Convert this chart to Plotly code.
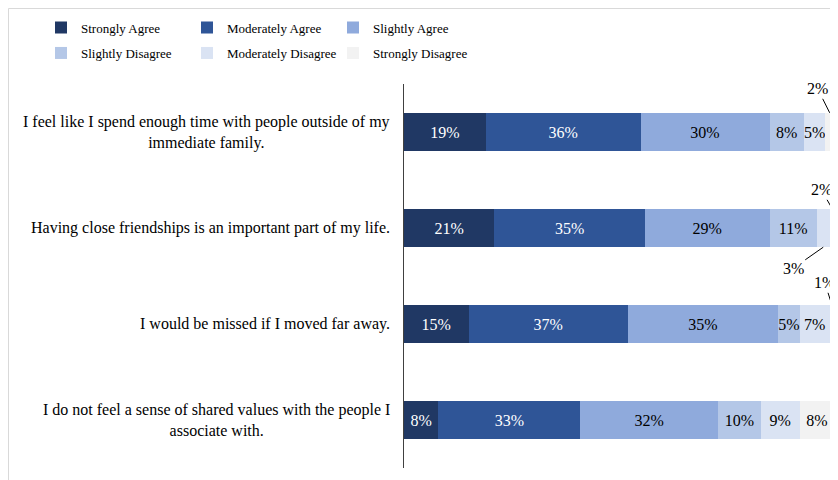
import plotly.graph_objects as go

categories = [
    "I feel like I spend enough time with people outside of my<br>immediate family.",
    "Having close friendships is an important part of my life.",
    "I would be missed if I moved far away.",
    "I do not feel a sense of shared values with the people I<br>associate with.",
]
series_names = ["Strongly Agree", "Moderately Agree", "Slightly Agree",
                "Slightly Disagree", "Moderately Disagree", "Strongly Disagree"]
strongly_agree = [19, 21, 15, 8]
moderately_agree = [36, 35, 37, 33]
slightly_agree = [30, 29, 35, 32]
slightly_disagree = [8, 11, 5, 10]
moderately_disagree = [5, 3, 7, 9]
strongly_disagree = [2, 2, 1, 8]
series_values = [strongly_agree, moderately_agree, slightly_agree,
                 slightly_disagree, moderately_disagree, strongly_disagree]

colors = ["#203864", "#2F5597", "#8FAADC", "#B4C7E7", "#DAE3F3", "#F2F2F2"]
text_colors = ["white", "white", "black", "black", "black", "black"]
FONT = "Liberation Serif"

# thin segments labelled outside with a leader line: (series, category) -> (ax, ay)
callouts = {
    (5, 0): (-12, -24),
    (5, 1): (-11, -19),
    (4, 1): (-30, 21),
    (5, 2): (-7, -22),
}

W, H = 838, 480
L, R, T, B = 396, 12, 76, 20
pw, ph = W - L - R, H - T - B
def px_x(p):
    return (p - L) / pw
def px_y(p):
    return (H - B - p) / ph

fig = go.Figure()
idx = list(range(len(categories)))
for s, (name, vals) in enumerate(zip(series_names, series_values)):
    texts = ["" if (s, i) in callouts else f"{v}%" for i, v in enumerate(vals)]
    fig.add_trace(go.Bar(
        name=name, y=idx, x=vals, orientation="h",
        marker=dict(color=colors[s], line=dict(width=0)),
        text=texts, textposition="inside", insidetextanchor="middle",
        textangle=0, constraintext="none",
        textfont=dict(family=FONT, size=16, color=text_colors[s]),
        width=0.4,
        legend="legend" if s < 3 else "legend2",
        hoverinfo="skip",
    ))

annotations = []
for i, c in enumerate(categories):
    annotations.append(dict(
        text=c, xref="paper", x=0, xshift=-12, xanchor="right",
        yref="y", y=i, yanchor="middle", align="center", showarrow=False,
        font=dict(family=FONT, size=16, color="#000000"),
    ))
for (s, i), (ax, ay) in callouts.items():
    start = sum(series_values[k][i] for k in range(s))
    mid = min(start + series_values[s][i] / 2, 99.6)
    edge = i - 0.2 if ay < 0 else i + 0.2
    annotations.append(dict(
        text=f"{series_values[s][i]}%", x=mid, y=edge, xref="x", yref="y",
        showarrow=True, arrowhead=0, arrowwidth=1, arrowcolor="#000000",
        ax=ax, ay=ay, font=dict(family=FONT, size=16, color="#000000"),
    ))

legend_common = dict(orientation="h", xref="paper", yref="paper",
                     xanchor="left", yanchor="top",
                     entrywidth=101, entrywidthmode="pixels", itemwidth=30,
                     font=dict(family=FONT, size=13, color="#000000"),
                     traceorder="normal", bgcolor="rgba(0,0,0,0)", borderwidth=0)

fig.update_layout(
    width=W, height=H,
    margin=dict(l=L, r=R, t=T, b=B, autoexpand=False),
    barmode="stack",
    plot_bgcolor="white", paper_bgcolor="white",
    font=dict(family=FONT, size=16, color="#000000"),
    xaxis=dict(range=[0, 100], visible=False, fixedrange=True),
    yaxis=dict(range=[3.5, -0.5], showticklabels=False, showgrid=False,
               zeroline=False, showline=True, linecolor="#404040", linewidth=1,
               ticks="", fixedrange=True),
    annotations=annotations,
    legend=dict(legend_common, x=px_x(33), y=px_y(4.5)),
    legend2=dict(legend_common, x=px_x(33), y=px_y(30)),
    shapes=[dict(type="rect", xref="paper", yref="paper",
                 x0=px_x(0.5), x1=px_x(W + 20), y0=px_y(H + 20), y1=px_y(0.5),
                 line=dict(color="#D9D9D9", width=1), fillcolor="rgba(0,0,0,0)",
                 layer="below")],
    showlegend=True,
)

fig.write_html("out.html")
